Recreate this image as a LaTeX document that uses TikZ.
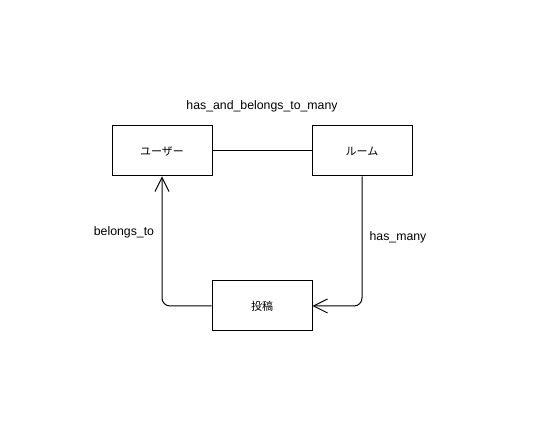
\documentclass[tikz,border=0pt]{standalone}
\usepackage{fontspec}
\setmainfont{Liberation Sans}
\newfontfamily\jpfont{Noto Sans CJK JP}
\usetikzlibrary{arrows.meta}

\begin{document}
\begin{tikzpicture}[x=1pt,y=-1pt,
    entity/.style={draw,line width=1pt,minimum width=100pt,minimum height=50pt,
      inner sep=0pt,font=\jpfont\fontsize{11}{13}\selectfont},
    rel/.style={line width=1pt,rounded corners=8pt},
    lbl/.style={font=\fontsize{12.3}{14}\selectfont}]
    \useasboundingbox (0,0) rectangle (547,438);

    \node[entity] (user) at (162,151) {ユーザー};
    \node[entity] (room) at (362,151) {ルーム};
    \node[entity] (post) at (262,306) {投稿};

    \draw[rel] (user.east) -- (room.east -| room.west);
    \draw[rel,-{Straight Barb[length=14pt,width=14pt]}] (room.south) |- (post.east);
    \draw[rel,-{Straight Barb[length=14pt,width=14pt]}] (post.west) -| (user.south);

    \node[lbl] (habtm) at (262,106) {has\_and\_belongs\_to\_many};
    \node[lbl] (hasmany) at (398,237) {has\_many};
    \node[lbl] (belongs) at (124,232) {belongs\_to};

  \end{tikzpicture}
\end{document}
